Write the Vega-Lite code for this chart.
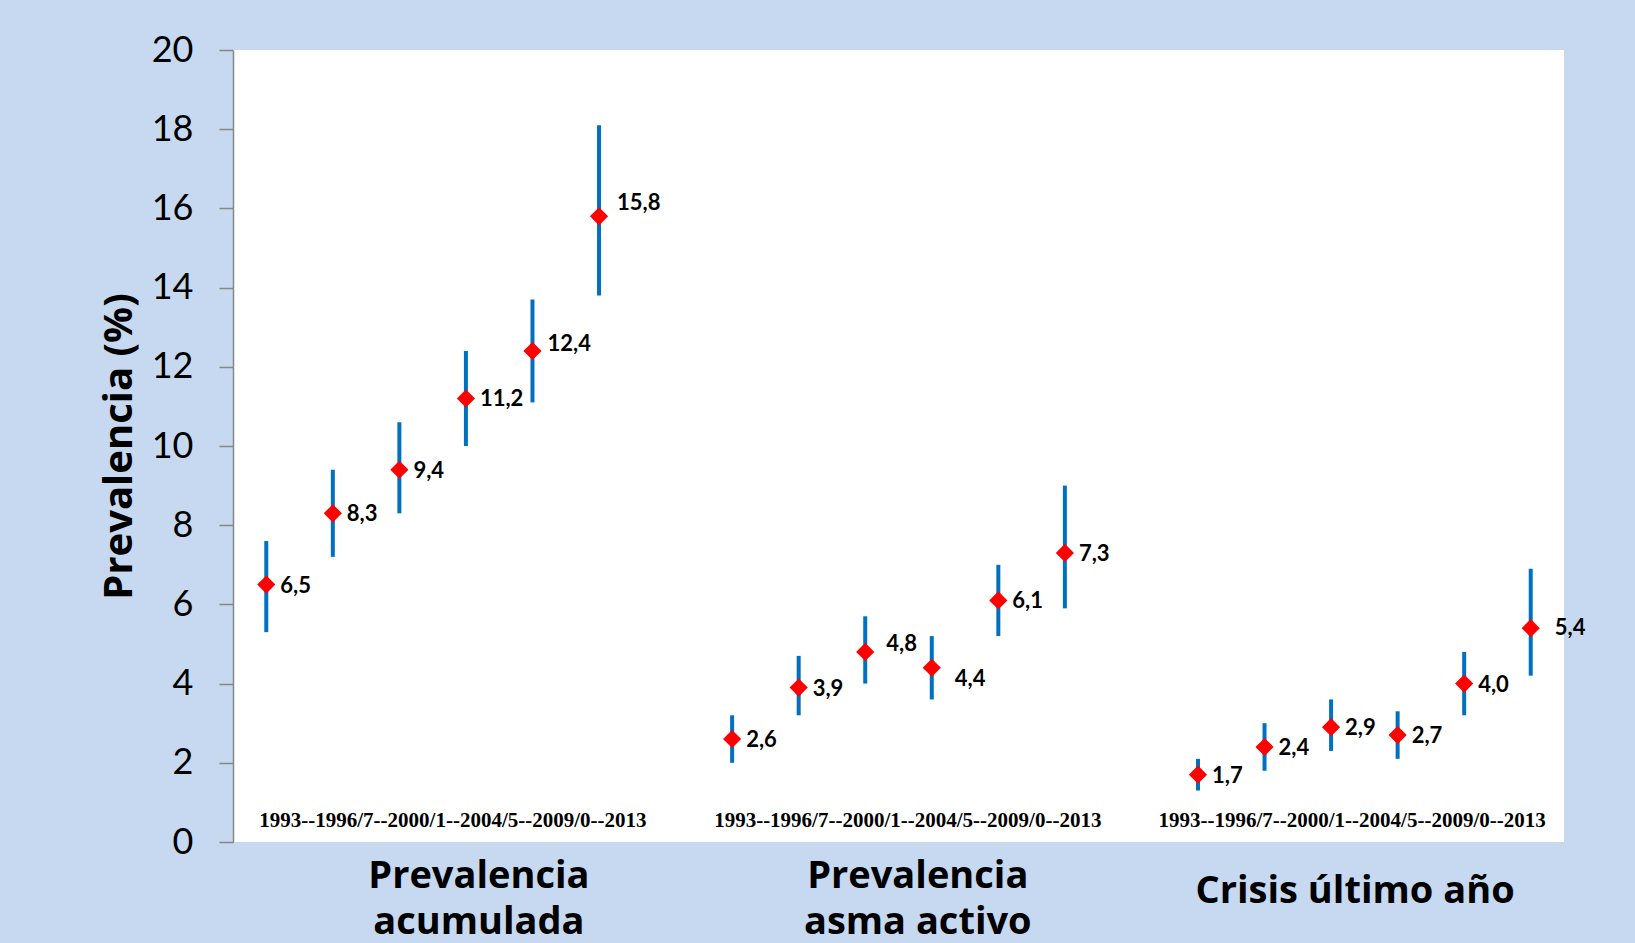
{
  "$schema": "https://vega.github.io/schema/vega-lite/v6.json",
  "width": 1331,
  "height": 792,
  "autosize": {"type": "none"},
  "padding": {"left": 233, "top": 50, "right": 71, "bottom": 101},
  "background": "#C6D9F1",
  "config": {
    "view": {"fill": "white", "stroke": null},
    "locale": {"number": {"decimal": ",", "thousands": ".", "grouping": [3], "currency": ["", " €"]}}
  },
  "datasets": {
    "puntos": [
      {"grupo": "Prevalencia acumulada", "periodo": "1993", "clave": "A1", "valor": 6.5, "inferior": 5.3, "superior": 7.6},
      {"grupo": "Prevalencia acumulada", "periodo": "1996/7", "clave": "A2", "valor": 8.3, "inferior": 7.2, "superior": 9.4},
      {"grupo": "Prevalencia acumulada", "periodo": "2000/1", "clave": "A3", "valor": 9.4, "inferior": 8.3, "superior": 10.6},
      {"grupo": "Prevalencia acumulada", "periodo": "2004/5", "clave": "A4", "valor": 11.2, "inferior": 10.0, "superior": 12.4},
      {"grupo": "Prevalencia acumulada", "periodo": "2009/10", "clave": "A5", "valor": 12.4, "inferior": 11.1, "superior": 13.7},
      {"grupo": "Prevalencia acumulada", "periodo": "2013", "clave": "A6", "valor": 15.8, "inferior": 13.8, "superior": 18.1},
      {"grupo": "Prevalencia asma activo", "periodo": "1993", "clave": "B1", "valor": 2.6, "inferior": 2.0, "superior": 3.2},
      {"grupo": "Prevalencia asma activo", "periodo": "1996/7", "clave": "B2", "valor": 3.9, "inferior": 3.2, "superior": 4.7},
      {"grupo": "Prevalencia asma activo", "periodo": "2000/1", "clave": "B3", "valor": 4.8, "inferior": 4.0, "superior": 5.7},
      {"grupo": "Prevalencia asma activo", "periodo": "2004/5", "clave": "B4", "valor": 4.4, "inferior": 3.6, "superior": 5.2},
      {"grupo": "Prevalencia asma activo", "periodo": "2009/10", "clave": "B5", "valor": 6.1, "inferior": 5.2, "superior": 7.0},
      {"grupo": "Prevalencia asma activo", "periodo": "2013", "clave": "B6", "valor": 7.3, "inferior": 5.9, "superior": 9.0},
      {"grupo": "Crisis último año", "periodo": "1993", "clave": "C1", "valor": 1.7, "inferior": 1.3, "superior": 2.1},
      {"grupo": "Crisis último año", "periodo": "1996/7", "clave": "C2", "valor": 2.4, "inferior": 1.8, "superior": 3.0},
      {"grupo": "Crisis último año", "periodo": "2000/1", "clave": "C3", "valor": 2.9, "inferior": 2.3, "superior": 3.6},
      {"grupo": "Crisis último año", "periodo": "2004/5", "clave": "C4", "valor": 2.7, "inferior": 2.1, "superior": 3.3},
      {"grupo": "Crisis último año", "periodo": "2009/10", "clave": "C5", "valor": 4.0, "inferior": 3.2, "superior": 4.8},
      {"grupo": "Crisis último año", "periodo": "2013", "clave": "C6", "valor": 5.4, "inferior": 4.2, "superior": 6.9}
    ],
    "grupos": [
      {"grupo": "A", "titulo": "Prevalencia\nacumulada", "periodos": "1993--1996/7--2000/1--2004/5--2009/0--2013"},
      {"grupo": "B", "titulo": "Prevalencia\nasma activo", "periodos": "1993--1996/7--2000/1--2004/5--2009/0--2013"},
      {"grupo": "C", "titulo": "Crisis último año", "periodos": "1993--1996/7--2000/1--2004/5--2009/0--2013"}
    ]
  },
  "encoding": {
    "x": {
      "field": "clave",
      "type": "nominal",
      "scale": {
        "domain": ["A1", "A2", "A3", "A4", "A5", "A6", "s1", "B1", "B2", "B3", "B4", "B5", "B6", "s2", "C1", "C2", "C3", "C4", "C5", "C6"],
        "paddingInner": 0,
        "paddingOuter": 0
      },
      "axis": null
    }
  },
  "layer": [
    {
      "data": {"name": "puntos"},
      "mark": {"type": "rule", "color": "#0070C0", "strokeWidth": 4},
      "encoding": {
        "y": {
          "field": "inferior",
          "type": "quantitative",
          "scale": {"domain": [0, 20], "nice": false, "zero": true},
          "axis": {
            "title": "Prevalencia (%)",
            "values": [0, 2, 4, 6, 8, 10, 12, 14, 16, 18, 20],
            "grid": false,
            "domainColor": "#868686",
            "domainWidth": 1.5,
            "tickColor": "#868686",
            "tickWidth": 1.5,
            "tickSize": 14,
            "labelPadding": 26,
            "labelFont": "Lato",
            "labelFontSize": 36,
            "labelColor": "black",
            "titleFont": "Open Sans",
            "titleFontSize": 40,
            "titleFontWeight": "bold",
            "titleColor": "black",
            "titlePadding": 12
          }
        },
        "y2": {"field": "superior"}
      }
    },
    {
      "data": {"name": "puntos"},
      "mark": {"type": "point", "shape": "diamond", "filled": true, "size": 330, "color": "#FF0000", "opacity": 1, "strokeWidth": 0},
      "encoding": {"y": {"field": "valor", "type": "quantitative"}}
    },
    {
      "data": {"name": "puntos"},
      "transform": [{"filter": {"not": {"field": "clave", "oneOf": ["A5", "A6", "B3", "B4", "C6"]}}}],
      "mark": {"type": "text", "align": "left", "baseline": "middle", "dx": 14, "dy": 1, "font": "Lato", "fontSize": 22, "fontWeight": "bold", "color": "black"},
      "encoding": {"y": {"field": "valor", "type": "quantitative"}, "text": {"field": "valor", "format": ".1f"}}
    },
    {
      "data": {"name": "puntos"},
      "transform": [{"filter": {"field": "clave", "equal": "A6"}}],
      "mark": {"type": "text", "align": "left", "baseline": "middle", "dx": 18, "dy": -13, "font": "Lato", "fontSize": 22, "fontWeight": "bold", "color": "black"},
      "encoding": {"y": {"field": "valor", "type": "quantitative"}, "text": {"field": "valor", "format": ".1f"}}
    },
    {
      "data": {"name": "puntos"},
      "transform": [{"filter": {"field": "clave", "equal": "A5"}}],
      "mark": {"type": "text", "align": "left", "baseline": "middle", "dx": 15, "dy": -7, "font": "Lato", "fontSize": 22, "fontWeight": "bold", "color": "black"},
      "encoding": {"y": {"field": "valor", "type": "quantitative"}, "text": {"field": "valor", "format": ".1f"}}
    },
    {
      "data": {"name": "puntos"},
      "transform": [{"filter": {"field": "clave", "equal": "B3"}}],
      "mark": {"type": "text", "align": "left", "baseline": "middle", "dx": 21, "dy": -8, "font": "Lato", "fontSize": 22, "fontWeight": "bold", "color": "black"},
      "encoding": {"y": {"field": "valor", "type": "quantitative"}, "text": {"field": "valor", "format": ".1f"}}
    },
    {
      "data": {"name": "puntos"},
      "transform": [{"filter": {"field": "clave", "equal": "B4"}}],
      "mark": {"type": "text", "align": "left", "baseline": "middle", "dx": 23, "dy": 11, "font": "Lato", "fontSize": 22, "fontWeight": "bold", "color": "black"},
      "encoding": {"y": {"field": "valor", "type": "quantitative"}, "text": {"field": "valor", "format": ".1f"}}
    },
    {
      "data": {"name": "puntos"},
      "transform": [{"filter": {"field": "clave", "equal": "C6"}}],
      "mark": {"type": "text", "align": "left", "baseline": "middle", "dx": 24, "dy": 0, "font": "Lato", "fontSize": 22, "fontWeight": "bold", "color": "black"},
      "encoding": {"y": {"field": "valor", "type": "quantitative"}, "text": {"field": "valor", "format": ".1f"}}
    },
    {
      "data": {"name": "grupos"},
      "transform": [{"filter": {"field": "grupo", "equal": "A"}}],
      "mark": {"type": "text", "align": "center", "baseline": "alphabetic", "dx": -13, "dy": -15, "font": "Liberation Serif", "fontSize": 21, "fontWeight": "bold", "color": "black"},
      "encoding": {"x": {"datum": "A4"}, "y": {"datum": 0}, "text": {"field": "periodos"}}
    },
    {
      "data": {"name": "grupos"},
      "transform": [{"filter": {"field": "grupo", "equal": "B"}}],
      "mark": {"type": "text", "align": "center", "baseline": "alphabetic", "dx": -24, "dy": -15, "font": "Liberation Serif", "fontSize": 21, "fontWeight": "bold", "color": "black"},
      "encoding": {"x": {"datum": "B4"}, "y": {"datum": 0}, "text": {"field": "periodos"}}
    },
    {
      "data": {"name": "grupos"},
      "transform": [{"filter": {"field": "grupo", "equal": "C"}}],
      "mark": {"type": "text", "align": "center", "baseline": "alphabetic", "dx": 21, "dy": -15, "font": "Liberation Serif", "fontSize": 21, "fontWeight": "bold", "color": "black"},
      "encoding": {"x": {"datum": "C3"}, "y": {"datum": 0}, "text": {"field": "periodos"}}
    },
    {
      "data": {"name": "grupos"},
      "transform": [{"filter": {"field": "grupo", "equal": "A"}}],
      "mark": {"type": "text", "align": "center", "baseline": "alphabetic", "lineBreak": "\n", "lineHeight": 46, "dx": 13, "dy": 46, "font": "Open Sans", "fontSize": 38, "fontWeight": "bold", "color": "black"},
      "encoding": {"x": {"datum": "A4"}, "y": {"datum": 0}, "text": {"field": "titulo"}}
    },
    {
      "data": {"name": "grupos"},
      "transform": [{"filter": {"field": "grupo", "equal": "B"}}],
      "mark": {"type": "text", "align": "center", "baseline": "alphabetic", "lineBreak": "\n", "lineHeight": 46, "dx": -14, "dy": 46, "font": "Open Sans", "fontSize": 38, "fontWeight": "bold", "color": "black"},
      "encoding": {"x": {"datum": "B4"}, "y": {"datum": 0}, "text": {"field": "titulo"}}
    },
    {
      "data": {"name": "grupos"},
      "transform": [{"filter": {"field": "grupo", "equal": "C"}}],
      "mark": {"type": "text", "align": "center", "baseline": "alphabetic", "lineBreak": "\n", "lineHeight": 46, "dx": 24, "dy": 61, "font": "Open Sans", "fontSize": 38, "fontWeight": "bold", "color": "black"},
      "encoding": {"x": {"datum": "C3"}, "y": {"datum": 0}, "text": {"field": "titulo"}}
    }
  ]
}
